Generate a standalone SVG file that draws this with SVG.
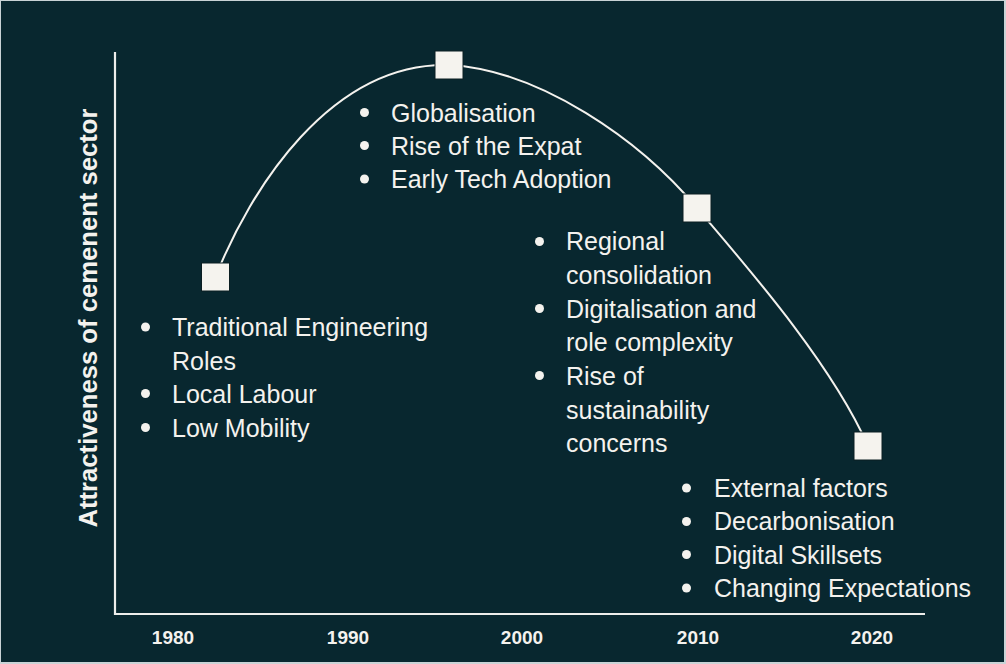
<svg xmlns="http://www.w3.org/2000/svg" width="1006" height="664" viewBox="0 0 1006 664">
<style>
.bul{font-family:"Liberation Sans",Arial,sans-serif;font-size:25px;fill:#F4F2EE}
.yr{font-family:"Liberation Sans",Arial,sans-serif;font-size:19px;font-weight:bold;fill:#F4F2EE;text-anchor:middle}
.ylab{font-family:"Liberation Sans",Arial,sans-serif;font-size:25px;font-weight:bold;fill:#F4F2EE;text-anchor:middle}
.dot{fill:#F4F2EE}
.sq{fill:#F5F3EE;stroke:#0B1E22;stroke-width:1}
.ax{stroke:#EDEDEB;stroke-width:2.2;fill:none}
.cv{stroke:#F4F2EE;stroke-width:2;fill:none}
</style>
<rect x="0" y="0" width="1006" height="664" fill="#C9D3D6"/>
<rect x="1" y="1" width="1003" height="661" fill="#08272F"/>
<g id="axes">
<path class="ax" d="M115,52 V614 H925"/>
</g>
<g id="connectors">
<path class="cv" d="M215.5,277 C250,190 330,62 449,65 C540,70 640,140 697,208 C740,259 830,360 868,446"/>
</g>
<g id="node-1980">
<rect class="sq" x="201.5" y="263" width="28" height="28"/>
</g>
<g id="node-1995">
<rect class="sq" x="435" y="51" width="28" height="28"/>
</g>
<g id="node-2010">
<rect class="sq" x="683" y="194" width="28" height="28"/>
</g>
<g id="node-2020">
<rect class="sq" x="854" y="432" width="28" height="28"/>
</g>
<g id="y-label">
<text class="ylab" transform="translate(97,318) rotate(-90)" textLength="419" lengthAdjust="spacingAndGlyphs">Attractiveness of cemenent sector</text>
</g>
<g id="x-labels">
<text class="yr" x="173" y="644">1980</text>
<text class="yr" x="348" y="644">1990</text>
<text class="yr" x="522" y="644">2000</text>
<text class="yr" x="698" y="644">2010</text>
<text class="yr" x="872" y="644">2020</text>
</g>
<g id="list-1980">
<circle class="dot" cx="145.5" cy="327" r="4.5"/>
<circle class="dot" cx="145.5" cy="393.5" r="4.5"/>
<circle class="dot" cx="145.5" cy="427.5" r="4.5"/>
<text class="bul" x="172" y="336">Traditional Engineering</text>
<text class="bul" x="172" y="369.5">Roles</text>
<text class="bul" x="172" y="402.5">Local Labour</text>
<text class="bul" x="172" y="436.5">Low Mobility</text>
</g>
<g id="list-1995">
<circle class="dot" cx="364.5" cy="112.5" r="4.5"/>
<circle class="dot" cx="364.5" cy="145.5" r="4.5"/>
<circle class="dot" cx="364.5" cy="179" r="4.5"/>
<text class="bul" x="391" y="121.5">Globalisation</text>
<text class="bul" x="391" y="154.5">Rise of the Expat</text>
<text class="bul" x="391" y="188">Early Tech Adoption</text>
</g>
<g id="list-2010">
<circle class="dot" cx="539.5" cy="241.5" r="4.5"/>
<circle class="dot" cx="539.5" cy="308.5" r="4.5"/>
<circle class="dot" cx="539.5" cy="375.5" r="4.5"/>
<text class="bul" x="566" y="250">Regional</text>
<text class="bul" x="566" y="283.5">consolidation</text>
<text class="bul" x="566" y="317.5">Digitalisation and</text>
<text class="bul" x="566" y="351">role complexity</text>
<text class="bul" x="566" y="384.5">Rise of</text>
<text class="bul" x="566" y="418.5">sustainability</text>
<text class="bul" x="566" y="451.5">concerns</text>
</g>
<g id="list-2020">
<circle class="dot" cx="686.5" cy="488" r="4.5"/>
<circle class="dot" cx="686.5" cy="521.5" r="4.5"/>
<circle class="dot" cx="686.5" cy="554.5" r="4.5"/>
<circle class="dot" cx="686.5" cy="588" r="4.5"/>
<text class="bul" x="714" y="497">External factors</text>
<text class="bul" x="714" y="530">Decarbonisation</text>
<text class="bul" x="714" y="563.5">Digital Skillsets</text>
<text class="bul" x="714" y="597">Changing Expectations</text>
</g>
</svg>
